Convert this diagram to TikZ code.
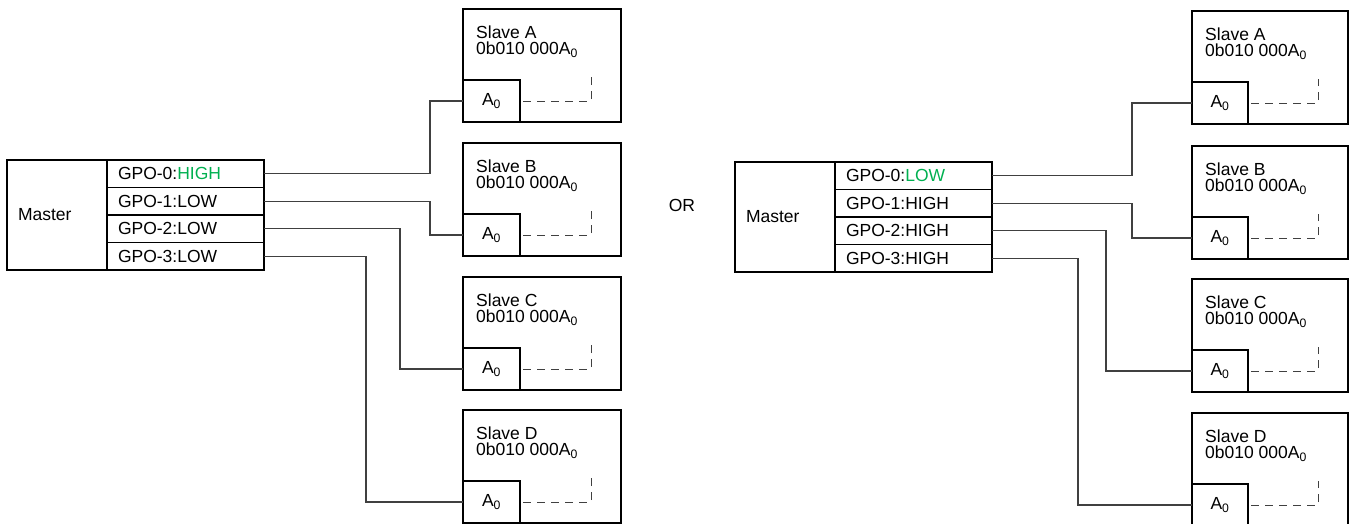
\documentclass[tikz,border=0pt]{standalone}
\usepackage{fontspec}
\setmainfont{Liberation Sans}
\usetikzlibrary{calc}
\definecolor{hgreen}{HTML}{00B050}
\definecolor{wirec}{HTML}{404040}
\begin{document}
\begin{tikzpicture}[x=1pt,y=-1pt,
  every node/.style={font=\fontsize{17.5}{17.5}\selectfont},
  boxline/.style={draw=black, line width=1.9pt, outer sep=0pt},
  mastbox/.style={boxline, text width=78pt, inner xsep=11pt, inner ysep=0pt, minimum height=110pt, align=left},
  gpo/.style={boxline, text width=135pt, inner xsep=11pt, inner ysep=0pt, minimum height=27.5pt, align=left},
  slavebox/.style={boxline, minimum height=113pt, inner sep=0pt},
  slavetext/.style={inner sep=0pt, align=left, font=\fontsize{17.5}{16}\selectfont},
  azero/.style={boxline, minimum width=57pt, minimum height=42pt, inner sep=0pt},
  dsh/.style={draw=wirec, line width=1pt, dash pattern=on 8pt off 6pt, dash phase=-3pt},
  wire/.style={draw=wirec, line width=1.1pt},
  ortext/.style={inner sep=0pt}]
\useasboundingbox (0,0) rectangle (1349,523);
% ---------- left ----------
\node[mastbox, anchor=north west] (mL) at (7,160) {Master};
\node[gpo, anchor=north west] (gL0) at (107,160) {GPO-0:\textcolor{hgreen}{HIGH}};
\node[gpo, anchor=north west] (gL1) at (107,187.5) {GPO-1:LOW};
\node[gpo, anchor=north west] (gL2) at (107,215) {GPO-2:LOW};
\node[gpo, anchor=north west] (gL3) at (107,242.5) {GPO-3:LOW};
\foreach \k/\t in {A/9,B/143,C/277,D/410}{
  \node[slavebox, minimum width=158pt, anchor=north west] (sL\k) at (463,\t) {};
  \node[slavetext, anchor=north west] (tL\k) at ($(sL\k.north west)+(13,17)$) {Slave \k\\0b010 000A\textsubscript{0}};
  \node[azero, anchor=south west] (aL\k) at (sL\k.south west) {A\textsubscript{0}};
  \coordinate (dL\k) at ($(aL\k.north east)+(71,-3)$);
  \draw[dsh] (aL\k.east) -| (dL\k);
}
\coordinate (vL0) at (430,0);
\coordinate (vL1) at (430,0);
\coordinate (vL2) at (400,0);
\coordinate (vL3) at (366,0);
\draw[wire] (gL0.east) -| (vL0 |- aLA.west) -- (aLA.west);
\draw[wire] (gL1.east) -| (vL1 |- aLB.west) -- (aLB.west);
\draw[wire] (gL2.east) -| (vL2 |- aLC.west) -- (aLC.west);
\draw[wire] (gL3.east) -| (vL3 |- aLD.west) -- (aLD.west);
% ---------- OR ----------
\node[ortext] (or) at (682,205) {OR};
% ---------- right ----------
\node[mastbox, anchor=north west] (mR) at (735,162) {Master};
\node[gpo, anchor=north west] (gR0) at (835,162) {GPO-0:\textcolor{hgreen}{LOW}};
\node[gpo, anchor=north west] (gR1) at (835,189.5) {GPO-1:HIGH};
\node[gpo, anchor=north west] (gR2) at (835,217) {GPO-2:HIGH};
\node[gpo, anchor=north west] (gR3) at (835,244.5) {GPO-3:HIGH};
\foreach \k/\t in {A/11,B/146,C/279,D/413}{
  \node[slavebox, minimum width=156pt, anchor=north west] (sR\k) at (1192,\t) {};
  \node[slavetext, anchor=north west] (tR\k) at ($(sR\k.north west)+(13,17)$) {Slave \k\\0b010 000A\textsubscript{0}};
  \node[azero, minimum width=56pt, anchor=south west] (aR\k) at (sR\k.south west) {A\textsubscript{0}};
  \coordinate (dR\k) at ($(aR\k.north east)+(70,-3)$);
  \draw[dsh] (aR\k.east) -| (dR\k);
}
\coordinate (vR0) at (1132,0);
\coordinate (vR1) at (1132,0);
\coordinate (vR2) at (1106,0);
\coordinate (vR3) at (1078,0);
\draw[wire] (gR0.east) -| (vR0 |- aRA.west) -- (aRA.west);
\draw[wire] (gR1.east) -| (vR1 |- aRB.west) -- (aRB.west);
\draw[wire] (gR2.east) -| (vR2 |- aRC.west) -- (aRC.west);
\draw[wire] (gR3.east) -| (vR3 |- aRD.west) -- (aRD.west);
\end{tikzpicture}
\end{document}
